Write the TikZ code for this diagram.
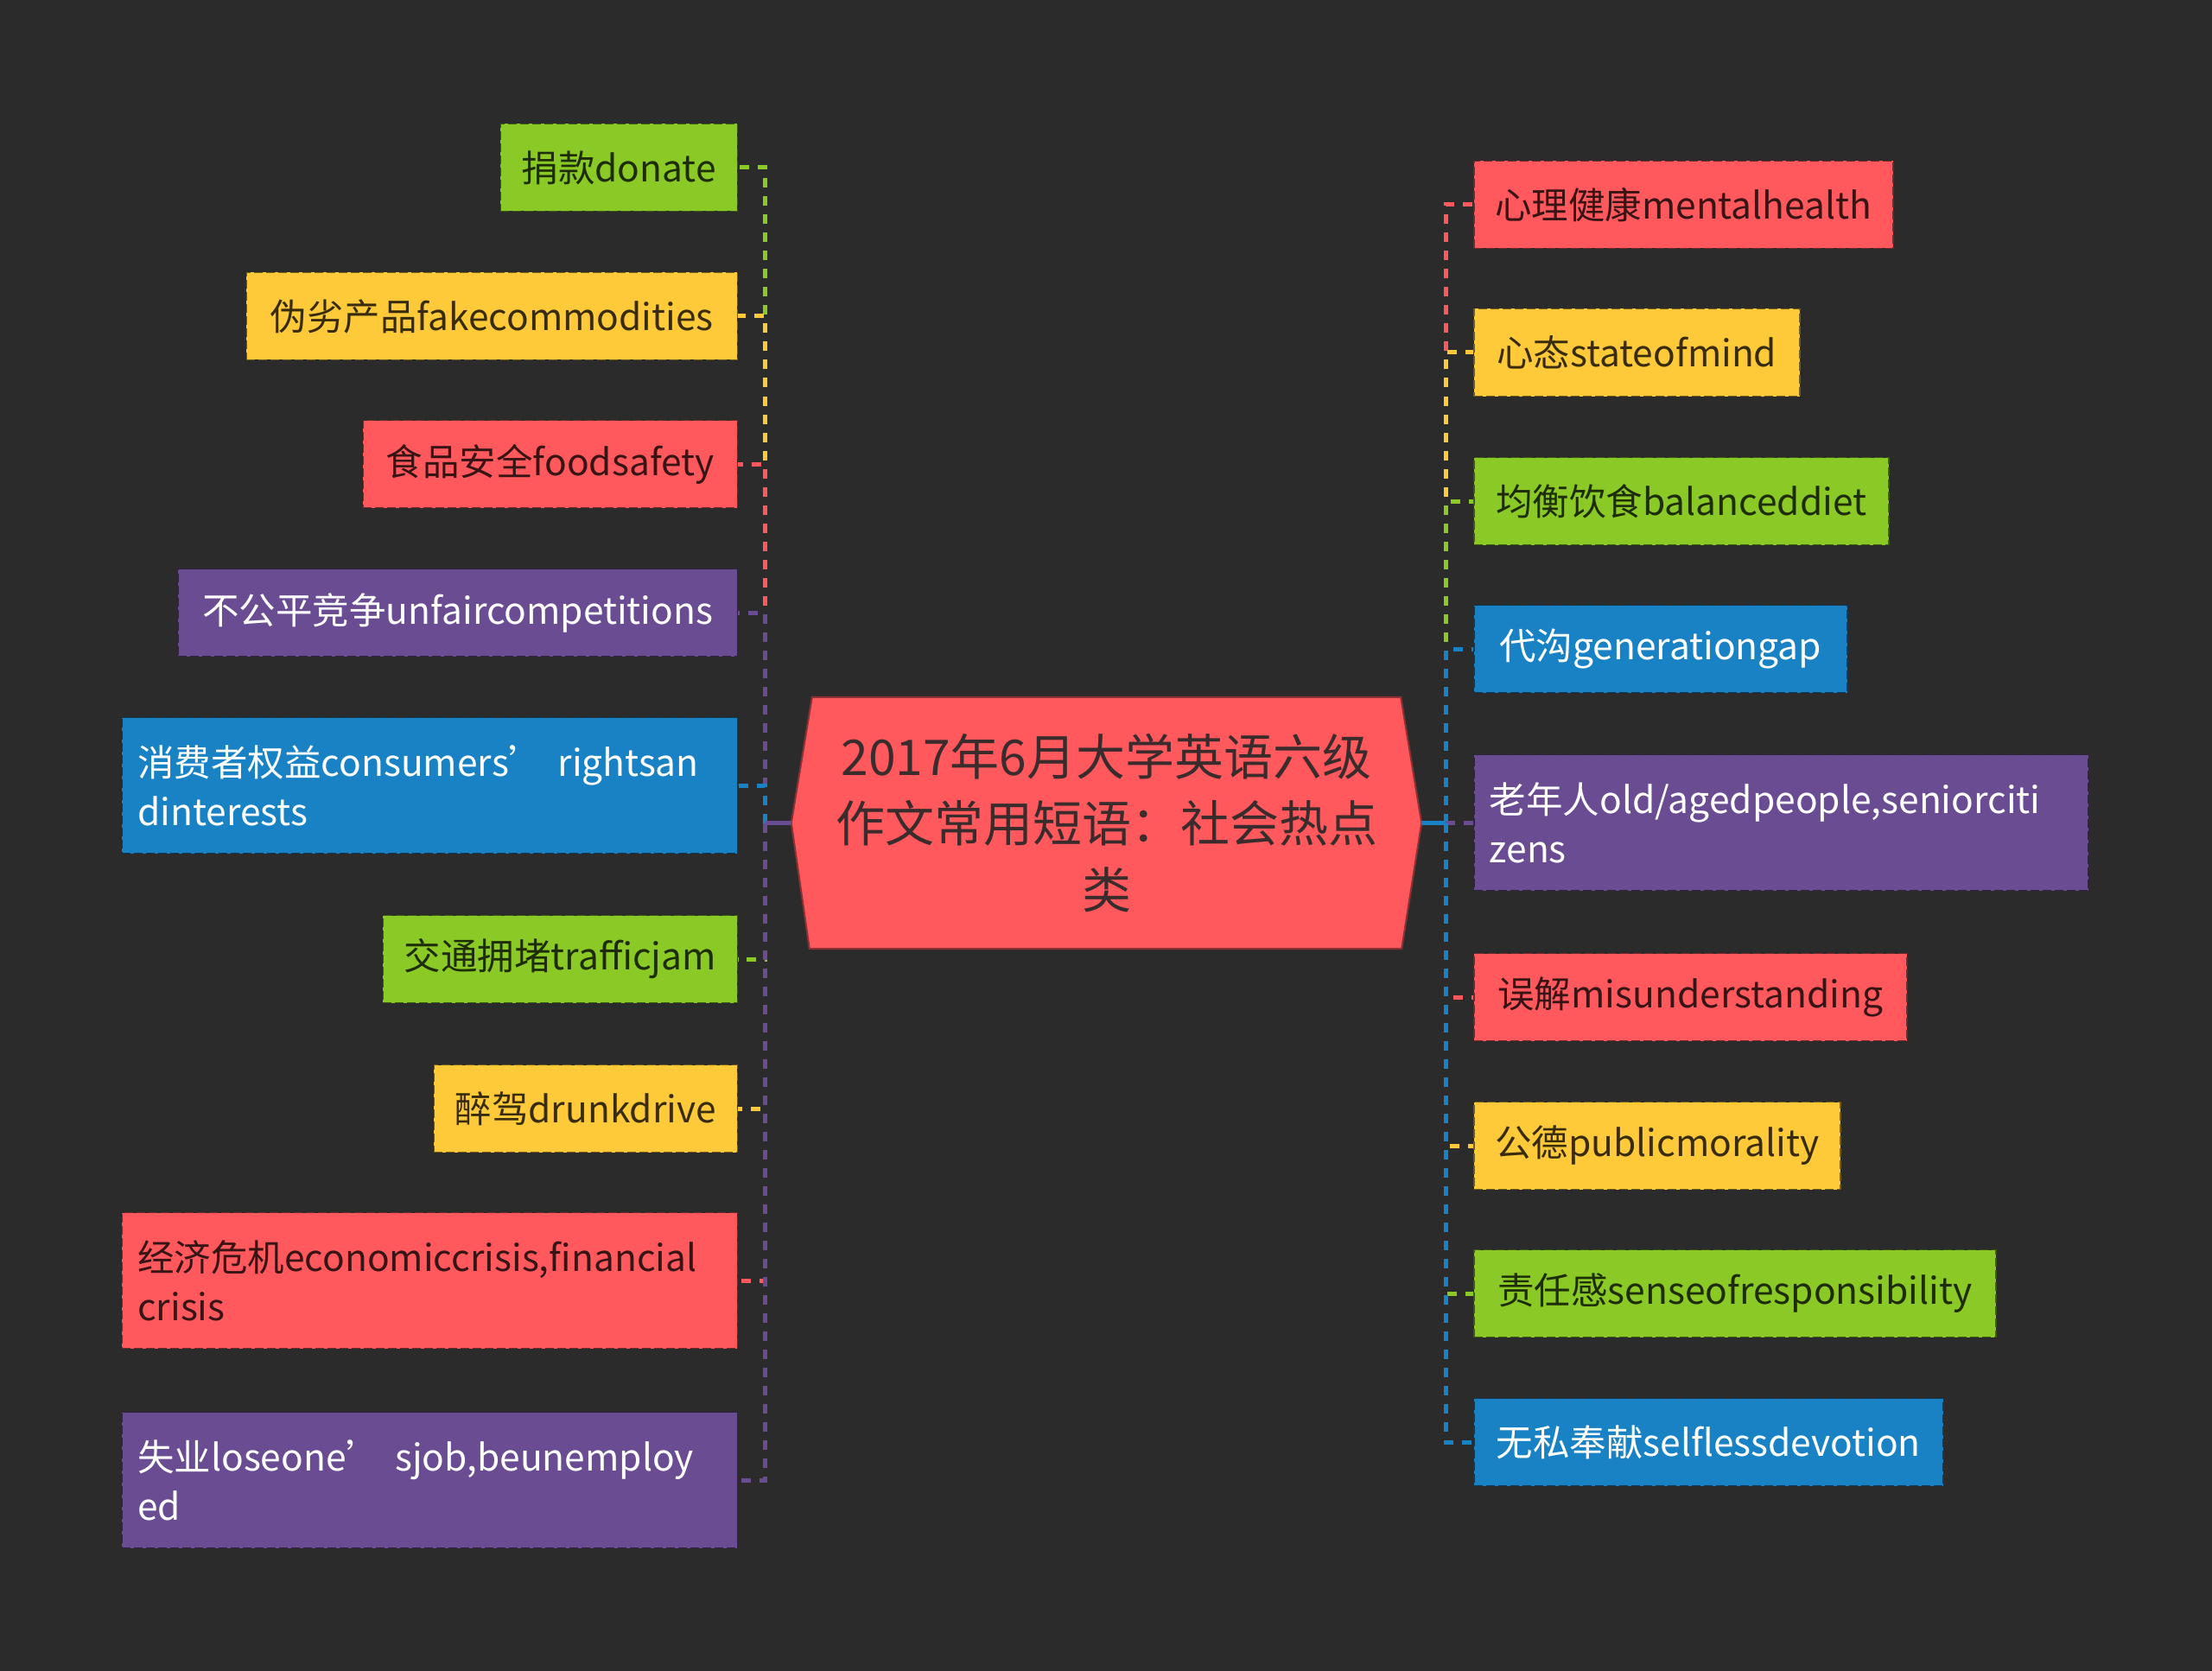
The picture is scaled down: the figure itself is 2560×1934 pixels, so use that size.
\documentclass[tikz,border=0pt]{standalone}
\usepackage{fontspec}
\setmainfont{Noto Sans CJK SC}
\usetikzlibrary{calc}
\pgfdeclarelayer{bottom}
\pgfdeclarelayer{background}
\pgfsetlayers{bottom,background,main}
\definecolor{bg}{HTML}{2B2B2B}
\definecolor{cred}{HTML}{FF595E}
\definecolor{cyel}{HTML}{FFCA3A}
\definecolor{cgrn}{HTML}{8AC926}
\definecolor{cblu}{HTML}{1982C4}
\definecolor{cpur}{HTML}{6A4C93}
\definecolor{ctxt}{HTML}{3A2C2C}
\tikzset{
  leaf/.style={draw=#1!45!black, fill=#1, dash pattern=on 10pt off 4pt, line width=1.5pt,
    minimum height=101pt, inner xsep=18pt, inner ysep=0pt,
    font=\fontsize{42.5}{57}\selectfont, text=#1!22!black},
  leafw/.style={leaf=#1, text=white},
  twoline/.style={minimum height=157pt, minimum width=712pt, text width=676pt, align=left},
  conn/.style={draw=#1, line width=5pt, dash pattern=on 11pt off 10pt},
  stub/.style={draw=#1, line width=5pt},
}
\begin{document}
\begin{tikzpicture}[x=1pt,y=-1pt]
\begin{pgfonlayer}{bottom}
  \fill[bg] (0,0) rectangle (2560,1934);
\end{pgfonlayer}
\useasboundingbox (0,0) rectangle (2560,1934);

% root
\node[minimum width=729pt, minimum height=291pt, align=center, inner sep=0pt,
      font=\fontsize{57}{77}\selectfont, text=ctxt] (root) at (1280.5,952.5)
  {2017年6月大学英语六级\\作文常用短语：社会热点\\类};
\begin{pgfonlayer}{background}
  \path[fill=cred, draw=cred!55!black, line width=2pt]
    ($(root.north west)+(24,0)$) -- ($(root.north east)+(-24,0)$) -- (root.east)
    -- ($(root.south east)+(-23,0)$) -- ($(root.south west)+(21,0)$) -- (root.west) -- cycle;
\end{pgfonlayer}

\coordinate (lt) at ($(root.west)+(-30,0)$);
\coordinate (rt) at ($(root.east)+(28,0)$);

% left children
\node[leaf=cgrn, anchor=east, minimum width=274pt] (l1) at (854,194) {捐款donate};
\node[leaf=cyel, anchor=east, minimum width=568pt] (l2) at (854,366) {伪劣产品fakecommodities};
\node[leaf=cred, anchor=east, minimum width=433pt] (l3) at (854,537) {食品安全foodsafety};
\node[leafw=cpur, anchor=east, minimum width=647pt] (l4) at (854,709) {不公平竞争unfaircompetitions};
\node[leafw=cblu, anchor=east, twoline] (l5) at (854,909) {\mbox{消费者权益consumers’ rightsan}\\dinterests};
\node[leaf=cgrn, anchor=east, minimum width=410pt] (l6) at (854,1110) {交通拥堵trafficjam};
\node[leaf=cyel, anchor=east, minimum width=351pt] (l7) at (854,1283) {醉驾drunkdrive};
\node[leaf=cred, anchor=east, twoline] (l8) at (854,1482) {\mbox{经济危机economiccrisis,financial}\\crisis};
\node[leafw=cpur, anchor=east, twoline] (l9) at (854,1713) {\mbox{失业loseone’ sjob,beunemploy}\\ed};

% right children
\node[leaf=cred, anchor=west, minimum width=485pt] (r1) at (1705,237) {心理健康mentalhealth};
\node[leaf=cyel, anchor=west, minimum width=377pt] (r2) at (1705,408) {心态stateofmind};
\node[leaf=cgrn, anchor=west, minimum width=480pt] (r3) at (1705,580) {均衡饮食balanceddiet};
\node[leafw=cblu, anchor=west, minimum width=432pt] (r4) at (1705,751) {代沟generationgap};
\node[leafw=cpur, anchor=west, twoline, minimum width=711pt, text width=675pt] (r5) at (1705,952) {\mbox{老年人old/agedpeople,seniorciti}\\zens};
\node[leaf=cred, anchor=west, minimum width=501pt] (r6) at (1705,1154) {误解misunderstanding};
\node[leaf=cyel, anchor=west, minimum width=424pt] (r7) at (1705,1326) {公德publicmorality};
\node[leaf=cgrn, anchor=west, minimum width=604pt] (r8) at (1705,1497) {责任感senseofresponsibility};
\node[leafw=cblu, anchor=west, minimum width=543pt] (r9) at (1705,1669) {无私奉献selflessdevotion};

% connectors left
\foreach \n/\c in {l1/cgrn,l2/cyel,l3/cred,l4/cpur,l5/cblu,l6/cgrn,l7/cyel,l8/cred,l9/cpur}{
  \draw[stub=\c] (root.west) -- (lt);
  \draw[conn=\c] (lt) |- (\n.east);
}
% connectors right
\foreach \n/\c in {r1/cred,r2/cyel,r3/cgrn,r4/cblu,r5/cpur,r6/cred,r7/cyel,r8/cgrn,r9/cblu}{
  \draw[stub=\c] (root.east) -- (rt);
  \draw[conn=\c] (rt) |- (\n.west);
}
\end{tikzpicture}
\end{document}
